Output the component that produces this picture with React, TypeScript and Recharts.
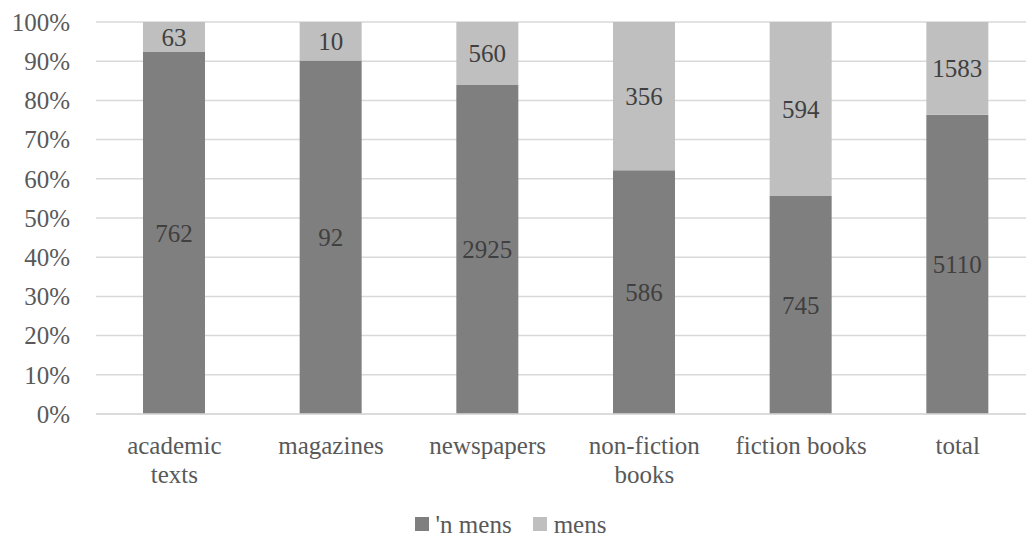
import { BarChart, Bar, XAxis, YAxis, CartesianGrid, Legend, LabelList } from 'recharts';

const categories = ['academic\ntexts', 'magazines', 'newspapers', 'non-fiction\nbooks', 'fiction books', 'total'];
const nMensValues = [762, 92, 2925, 586, 745, 5110];
const mensValues = [63, 10, 560, 356, 594, 1583];
const percentTicks = [0, 0.1, 0.2, 0.3, 0.4, 0.5, 0.6, 0.7, 0.8, 0.9, 1];

const seriesNames = { nMens: "'n mens", mens: 'mens' };
const colors = { nMens: '#7f7f7f', mens: '#bfbfbf' };

const FONT = "'Liberation Serif', 'Times New Roman', 'DejaVu Serif', serif";

const data = categories.map((c, i) => ({
  name: c,
  nMens: nMensValues[i],
  mens: mensValues[i],
}));

function CategoryTick(props: any) {
  const { x, y, payload } = props;
  const lines = String(payload.value).split('\n');
  return (
    <g>
      {lines.map((line, i) => (
        <text
          key={i}
          x={x}
          y={y + 40 + i * 29}
          textAnchor="middle"
          fill="#595959"
          style={{ fontFamily: FONT, fontSize: 25 }}
        >
          {line}
        </text>
      ))}
    </g>
  );
}

function LegendBox() {
  const items = [
    { key: 'nMens', label: seriesNames.nMens },
    { key: 'mens', label: seriesNames.mens },
  ];
  return (
    <div style={{ display: 'flex', justifyContent: 'center', height: 34, alignItems: 'center', paddingLeft: 6 }}>
      {items.map((it) => (
        <div key={it.key} style={{ display: 'flex', alignItems: 'center', marginRight: 21 }}>
          <span style={{ width: 14, height: 14, background: (colors as any)[it.key], display: 'inline-block', marginRight: 7 }} />
          <span style={{ fontFamily: FONT, fontSize: 25, color: '#595959', lineHeight: 1 }}>{it.label}</span>
        </div>
      ))}
    </div>
  );
}

export default function App() {
  return (
    <div style={{ position: 'absolute', top: 0, left: 0, width: 1026, height: 541, overflow: 'hidden', background: '#fff', fontFamily: FONT }}>
      <BarChart
        width={1040}
        height={541}
        data={data}
        stackOffset="expand"
        barSize={62}
        margin={{ top: 22, right: 4, left: 0, bottom: 0 }}
      >
        <CartesianGrid stroke="#d9d9d9" strokeWidth={1.5} vertical={false} />
        <XAxis
          dataKey="name"
          axisLine={{ stroke: '#d9d9d9', strokeWidth: 1.5 }}
          tickLine={false}
          tickSize={0}
          tickMargin={0}
          height={93}
          interval={0}
          tick={<CategoryTick />}
        />
        <YAxis
          width={96}
          domain={[0, 1]}
          ticks={percentTicks}
          tickFormatter={(v: number) => `${Math.round(v * 100)}%`}
          axisLine={false}
          tickLine={false}
          tickSize={0}
          tickMargin={26}
          tick={{ fill: '#595959', fontSize: 25, style: { fontFamily: FONT } }}
        />
        <Legend
          verticalAlign="bottom"
          height={34}
          content={<LegendBox />}
        />
        <Bar dataKey="nMens" name={seriesNames.nMens} stackId="a" fill={colors.nMens} isAnimationActive={false}>
          <LabelList dataKey="nMens" position="center" fill="#404040" fontSize={25} style={{ fontFamily: FONT }} />
        </Bar>
        <Bar dataKey="mens" name={seriesNames.mens} stackId="a" fill={colors.mens} isAnimationActive={false}>
          <LabelList dataKey="mens" position="center" fill="#404040" fontSize={25} style={{ fontFamily: FONT }} />
        </Bar>
      </BarChart>
    </div>
  );
}
